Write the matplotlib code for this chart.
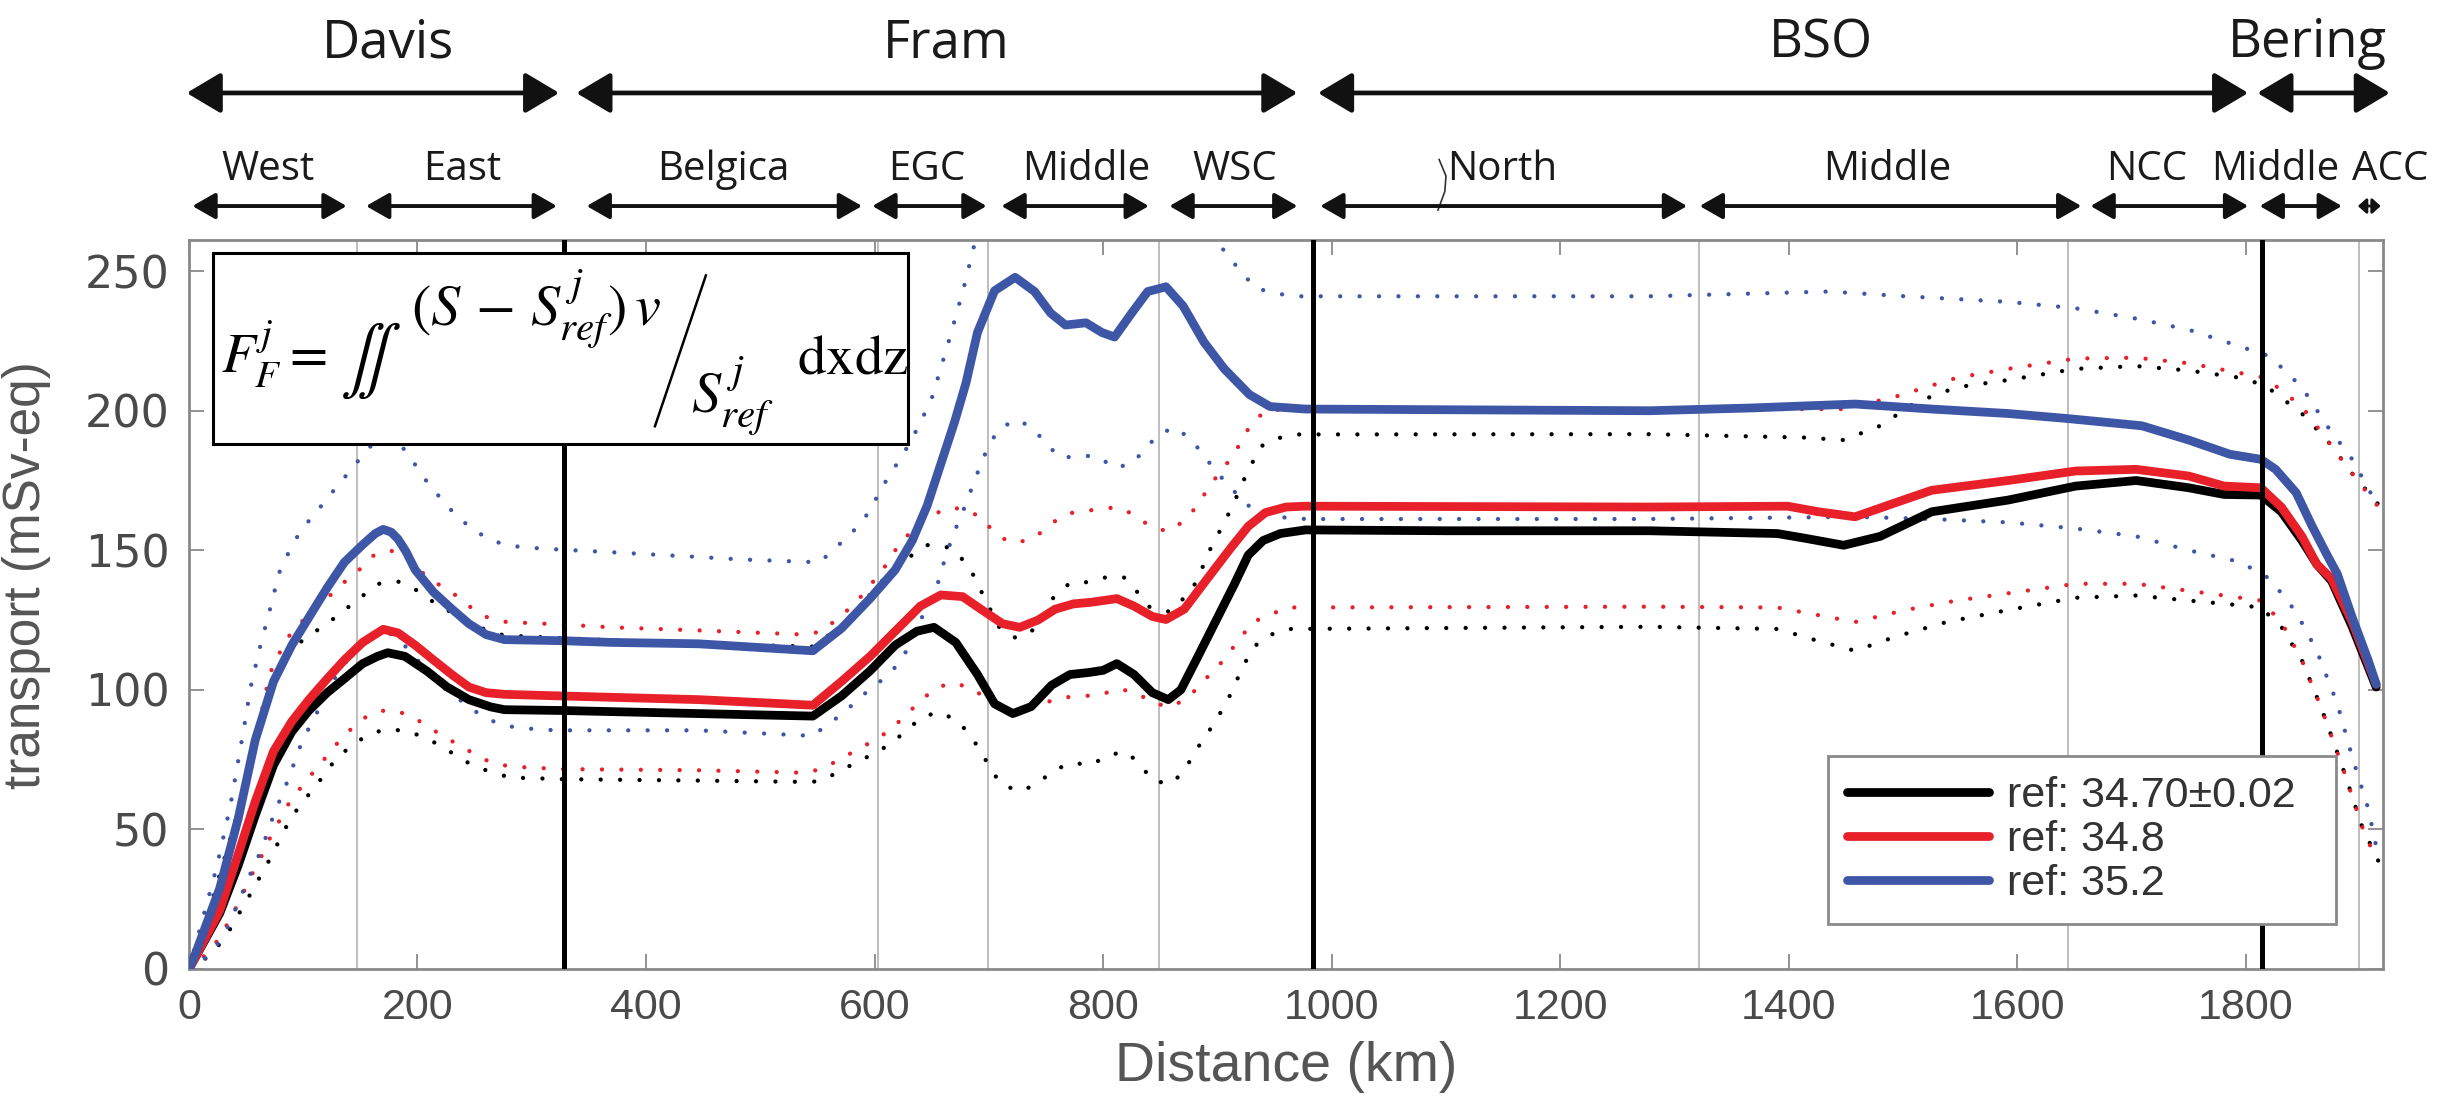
import numpy as np
import matplotlib.pyplot as plt
from matplotlib.transforms import blended_transform_factory
from matplotlib.patches import Rectangle
from matplotlib.lines import Line2D

plt.rcParams['mathtext.fontset'] = 'stix'
plt.rcParams['font.family'] = ['Liberation Sans', 'DejaVu Sans']

# ---- transport curves: (distance km, transport mSv-eq) ----
black_solid = [(0, 0), (27, 20), (43, 37), (58, 55), (74, 73), (90, 85), (105, 92.6), (121, 99),
               (136, 104), (152, 109.4), (165, 112), (174, 113.3), (189, 112), (208, 106.8), (226, 101),
               (245, 96.5), (264, 93.9), (276, 92.9), (327, 92.6), (446, 91.5), (546, 90.6),
               (571, 97.8), (596, 106.8), (618, 116), (637, 121), (652, 122.4), (671, 117),
               (690, 105.5), (705, 95), (721, 91.5), (737, 94), (755, 101.7), (771, 105.5),
               (787, 106.2), (800, 107), (812, 109.4), (827, 105.5), (843, 99), (857, 96.5),
               (868, 100), (883, 112), (899, 125), (915, 138), (927, 148.3), (940, 153.5),
               (955, 156), (977, 157.3), (1100, 157), (1278, 157), (1390, 156), (1413, 154.4),
               (1448, 151.8), (1480, 155), (1525, 163.8), (1592, 168), (1651, 173), (1704, 175),
               (1750, 172.4), (1781, 170), (1813, 169.8), (1831, 163.8), (1849, 153.5),
               (1862, 145), (1875, 139), (1893, 122.6), (1914, 101)]

red_solid = [(0, 0), (6, 4.5), (27, 21), (43, 41), (58, 60), (74, 78), (90, 88.7), (105, 96.5),
             (121, 104), (136, 110.7), (152, 117), (170, 121.7), (183, 120.4), (198, 116),
             (214, 110.7), (230, 105.5), (245, 101), (260, 99), (276, 98.4), (327, 97.8),
             (446, 96.5), (546, 94.5), (571, 103), (596, 112), (618, 121), (640, 130),
             (658, 134), (677, 133.4), (693, 128.9), (712, 123.7), (727, 122.4), (743, 125),
             (758, 128.9), (774, 130.8), (790, 131.4), (812, 132.7), (827, 130), (843, 126.3),
             (855, 125.2), (871, 128.9), (890, 139.2), (912, 151), (927, 158.6), (942, 163.5),
             (960, 165.5), (977, 165.8), (1278, 165.5), (1399, 165.8), (1426, 163.8),
             (1458, 162), (1493, 167), (1525, 171.5), (1592, 175), (1651, 178.4), (1704, 179),
             (1750, 176.6), (1781, 173), (1813, 172.4), (1831, 165.5), (1849, 155), (1862, 145),
             (1875, 139.8), (1893, 124.3), (1914, 102)]

blue_solid = [(0, 0), (6, 5.8), (27, 29), (43, 53.7), (58, 82), (74, 103), (90, 116), (105, 126),
              (121, 136.6), (136, 145.7), (152, 152), (163, 156), (170, 157.5), (177, 156.5),
              (183, 154), (190, 149.5), (198, 143),
              (214, 135), (230, 129), (245, 123.7), (260, 119.8), (276, 118), (327, 117.6),
              (370, 117), (446, 116.5), (546, 114), (571, 122), (596, 132.7), (618, 143),
              (633, 153.5), (646, 166), (658, 181), (670, 196), (680, 210), (690, 228),
              (705, 243), (723, 247.8), (740, 242.7), (754, 235), (767, 230.7), (785, 231.5),
              (799, 228), (810, 226.4), (825, 235), (839, 242.7), (855, 244.4), (870, 237.5),
              (888, 224.7), (906, 215), (928, 205.8), (946, 201.5), (977, 200.6), (1278, 200),
              (1368, 201), (1458, 202.4), (1525, 200.6), (1592, 199), (1644, 197.2),
              (1709, 194.6), (1750, 189.5), (1786, 184.4), (1813, 182.6), (1826, 179),
              (1844, 170.6), (1858, 158.6), (1871, 148.3), (1880, 141.5), (1893, 126),
              (1907, 110.6), (1914, 102)]

# ---- uncertainty bounds (dotted) ----
black_upper = [(0, 0), (20, 24), (40, 52), (55, 78), (69, 99), (85, 112), (100, 118), (111, 121),
               (125, 125), (139, 129.5), (153, 134), (166, 138), (183, 138.8), (198, 136),
               (212, 132), (226, 128.6), (242, 125), (262, 121), (276, 119.5), (327, 118.5),
               (446, 116.5), (546, 115.5), (575, 124), (600, 136), (620, 145), (633, 148.3),
               (647, 152), (665, 151), (677, 146.7), (687, 140.8), (694, 134.7), (710, 121.7),
               (724, 118.5), (740, 121.7), (757, 133.4), (771, 138.3), (787, 138.6), (804, 140.5),
               (819, 140.2), (830, 135), (841, 129.5), (858, 128), (877, 135.3), (885, 141.8),
               (891, 148.3), (899, 154.5), (907, 160.8), (915, 167.4), (921, 173.5), (929, 180),
               (937, 187), (951, 190), (969, 191.5), (1278, 191.6), (1413, 190.4), (1448, 189.5),
               (1480, 194.6), (1511, 203), (1547, 208.4), (1592, 211), (1651, 215), (1704, 216),
               (1750, 214.4), (1795, 211.8), (1817, 209), (1849, 199), (1871, 189.5),
               (1893, 177.5), (1916, 166.4)]

black_lower = [(0, 0), (20, 5.2), (35, 13.6), (44, 20), (54, 27), (63, 33.7), (71, 39.5), (79, 46),
               (87, 52.4), (96, 58), (107, 63.6), (118, 69.3), (128, 75), (141, 79.6), (155, 83.5),
               (170, 85.7), (188, 85.5), (203, 83.5), (219, 80.3), (234, 76.4), (248, 73),
               (264, 70.6), (281, 68.6), (327, 68), (446, 67.5), (545, 67), (555, 67.7),
               (569, 70.8), (584, 74), (602, 77.7), (616, 81.2), (629, 86), (643, 90.6), (658, 92),
               (674, 88.4), (685, 82.9), (694, 77.3), (702, 71.2), (712, 65.7), (729, 63.7),
               (744, 67), (757, 71.2), (772, 73.8), (790, 73.2), (805, 76.8), (821, 77.7),
               (833, 72.8), (844, 67.3), (860, 66.4), (872, 71.6), (880, 77.7), (890, 83.5),
               (899, 89.4), (908, 95.4), (915, 101.7), (922, 108), (931, 115), (942, 119),
               (960, 121.8), (1278, 122.6), (1390, 121.8), (1426, 117.5), (1458, 114), (1493, 119),
               (1538, 124.3), (1592, 128.6), (1651, 133), (1704, 133.8), (1750, 132), (1795, 130.3),
               (1813, 129.5), (1831, 122.6), (1849, 110.6), (1866, 93.5), (1884, 73),
               (1902, 50.6), (1916, 38.6)]

red_upper = [(0, 0), (15, 15), (30, 35), (45, 58), (58, 80), (65, 95), (71, 106), (79, 113),
             (87, 119), (98, 124), (110, 130), (124, 134), (136, 138.6), (149, 143), (161, 148),
             (176, 150), (192, 147), (208, 140.5), (233, 134), (245, 130), (261, 126), (278, 124.3),
             (295, 124), (327, 123.4), (370, 122.4), (446, 121.3), (540, 119.8), (554, 121),
             (566, 125), (579, 129.5), (591, 134.7), (602, 140.5), (612, 145.7), (621, 152),
             (640, 160), (662, 165), (677, 165), (693, 161.9), (704, 156.7), (718, 152.8),
             (735, 153.5), (749, 157.3), (762, 161.9), (777, 164), (794, 164.5), (812, 165.5),
             (827, 162.8), (841, 158.6), (857, 156.7), (871, 160.6), (882, 165.8), (891, 171.6),
             (901, 177.4), (912, 183), (921, 189), (929, 195), (942, 200), (960, 200.5),
             (1278, 200.5), (1448, 200.6), (1493, 205), (1547, 211.8), (1592, 215), (1651, 218.7),
             (1704, 219), (1750, 217), (1795, 213.5), (1817, 211.8), (1849, 201.5), (1871, 189.5),
             (1893, 177.5), (1916, 165.5)]

red_lower = [(0, 0), (20, 7), (35, 17), (45, 25), (54, 33), (63, 40), (71, 47), (79, 53), (87, 59),
             (96, 64), (107, 69.6), (121, 76.4), (132, 82), (144, 86.8), (158, 91.3), (174, 92.9),
             (191, 91.3), (205, 88), (220, 84), (235, 80.5), (250, 77), (265, 73.8), (282, 72.5),
             (327, 71.6), (446, 71.2), (540, 70.3), (555, 71.9), (569, 75), (585, 78.6),
             (601, 82.2), (615, 86), (627, 91), (640, 95.8), (652, 100.4), (668, 102.6),
             (685, 100.6), (699, 96.5), (713, 92.6), (730, 92.3), (748, 95.2), (762, 97.1),
             (779, 97.8), (796, 98), (813, 100.4), (829, 99), (844, 95.2), (860, 93.9), (876, 97.8),
             (887, 103), (899, 107.5), (910, 113.3), (921, 118.8), (930, 124.3), (942, 126),
             (960, 129.5), (1278, 129.8), (1390, 129.5), (1458, 124.3), (1502, 128.6), (1547, 132),
             (1592, 134.6), (1651, 138), (1704, 138), (1750, 135.5), (1795, 133), (1813, 132),
             (1831, 124.3), (1849, 110.6), (1866, 93.5), (1884, 73), (1902, 50.6), (1911, 42)]

blue_upper = [(0, 0), (12, 18), (24, 36), (36, 58), (48, 86), (54, 101), (62, 115), (71, 129),
              (79, 142), (87, 149), (95, 155), (105, 160.6), (116, 166), (127, 171.6), (138, 177),
              (148, 182), (158, 187), (172, 190), (182, 189), (192, 184.5), (201, 178.7), (211, 173),
              (223, 167.4), (234, 162.3), (247, 158), (262, 154), (278, 151.8), (295, 151),
              (327, 150.2), (370, 149.3), (446, 147.6), (484, 146.7), (552, 145.7), (566, 151),
              (577, 155), (590, 160.6), (599, 166.7), (607, 172.9), (616, 178.7), (625, 184.5),
              (633, 190), (641, 196.8), (649, 203), (665, 225), (678, 244), (687, 259), (700, 280),
              (880, 285), (901, 260), (910, 255), (933, 244), (951, 242), (969, 241), (1278, 241),
              (1435, 242.7), (1502, 241), (1592, 239), (1651, 236.7), (1704, 233), (1750, 229),
              (1795, 223), (1821, 219.5), (1849, 208.4), (1871, 194.6), (1893, 182.6),
              (1916, 165.5)]

blue_lower = [(0, 0), (20, 5.5), (34, 15), (48, 28.5), (54, 34.3), (62, 41.4), (68, 48), (74, 55),
              (87, 68), (99, 81.6), (111, 91), (122, 99.7), (130, 106), (145, 114), (166, 121.3),
              (178, 119.8), (192, 114.6), (214, 104), (228, 99), (242, 95), (254, 91.3), (270, 88),
              (287, 86.4), (321, 85.5), (446, 85.5), (546, 83.5), (558, 87.4), (574, 92), (586, 97),
              (599, 101), (612, 105.5), (624, 110.7), (637, 122.4), (654, 136), (658, 142.4),
              (669, 156), (676, 162.5), (682, 169), (688, 175.5), (694, 182), (701, 188.4),
              (710, 194), (726, 196.8), (740, 193), (751, 187.8), (763, 183), (780, 184),
              (796, 183.5), (810, 179.4), (826, 181.3), (837, 186.5), (849, 191.7), (863, 194),
              (877, 189.7), (887, 184.5), (898, 178.7), (908, 174), (921, 168.4), (933, 163.8),
              (951, 162), (977, 161.2), (1278, 161.2), (1458, 162), (1525, 161.2), (1592, 160),
              (1651, 157.8), (1704, 155), (1750, 150), (1795, 145.8), (1821, 139.8), (1844, 127.8),
              (1862, 114), (1880, 95), (1893, 76), (1907, 57.5), (1916, 40)]

legend_labels = ['ref: 34.70\u00b10.02', 'ref: 34.8', 'ref: 35.2']

# section boundaries (km)
thin_lines_km = [147, 603, 699, 849, 1321, 1644, 1899]
thick_lines_km = [328, 984, 1814]

# (label, start km, end km, label centre km)
straits = [('Davis', -2, 324, 174), ('Fram', 339, 970, 663),
           ('BSO', 988, 1802, 1428), ('Bering', 1810, 1926, 1854)]
subsections = [('West', 3, 138, 69), ('East', 155, 322, 239), ('Belgica', 348, 589, 468),
               ('EGC', 598, 698, 646), ('Middle', 711, 840, 785), ('WSC', 858, 970, 915),
               ('North', 990, 1311, 1149), ('Middle', 1322, 1656, 1486),
               ('NCC', 1664, 1802, 1713), ('Middle', 1812, 1884, 1826), ('ACC', 1898, 1918, 1926)]

c_black = '#000000'
c_red = '#e8202a'
c_blue = '#3d56a6'
grey = '#8a8a8a'
txt = '#4a4a4a'


def xy(series):
    a = np.array(series, dtype=float)
    return a[:, 0], a[:, 1]


fig = plt.figure(figsize=(24.57, 11), dpi=100)
ax = fig.add_axes([0.0769, 0.1191, 0.8930, 0.6623])

for x in thin_lines_km:
    ax.axvline(x, color='#b3b3b3', lw=1.2, zorder=1)

dot = dict(lw=3.1, linestyle=(0, (0.01, 4.5)), dash_capstyle='round', zorder=2)
for s, c in [(black_upper, c_black), (black_lower, c_black), (red_upper, c_red),
             (red_lower, c_red), (blue_upper, c_blue), (blue_lower, c_blue)]:
    ax.plot(*xy(s), color=c, **dot)

solid = dict(lw=6.3, solid_capstyle='round', solid_joinstyle='round', zorder=3)
hb, = ax.plot(*xy(black_solid), color=c_black, **solid)
hr, = ax.plot(*xy(red_solid), color=c_red, **solid)
hbl, = ax.plot(*xy(blue_solid), color=c_blue, **solid)

for x in thick_lines_km:
    ax.axvline(x, color='black', lw=3.6, zorder=4)

ax.set_xlim(0, 1920)
ax.set_ylim(0, 261)
ax.set_xticks(np.arange(0, 1801, 200))
ax.set_yticks(np.arange(0, 251, 50))
ax.tick_params(direction='in', top=True, right=True, length=11, width=1.3,
               color=grey, labelcolor=txt)
ax.tick_params(axis='y', pad=14, labelsize=32)
ax.tick_params(axis='x', pad=14, labelsize=31)
for lab in ax.get_yticklabels():
    lab.set_family('DejaVu Sans')
for sp in ax.spines.values():
    sp.set_color(grey)
    sp.set_linewidth(2)
ax.set_xlabel('Distance (km)', fontsize=40, color='#555555', labelpad=9)
ax.set_ylabel('transport (mSv-eq)', fontsize=37, color='#555555')
ax.yaxis.set_label_coords(-0.063, 0.54)

leg = ax.legend([hb, hr, hbl], legend_labels, loc='lower left',
                bbox_to_anchor=(0.747, 0.062, 0.2316, 0.245), mode='expand',
                borderaxespad=0,
                fontsize=31, handlelength=3.3, handletextpad=0.4, labelspacing=0.1,
                borderpad=0.45, fancybox=False, framealpha=1, edgecolor='#8a8a8a')
leg.get_frame().set_linewidth(2)
leg.set_zorder(11)
for t in leg.get_texts():
    t.set_color('#333333')

# formula box
ax.add_patch(Rectangle((0.011, 0.7207), 0.3165, 0.2623, transform=ax.transAxes,
                       facecolor='white', edgecolor='black', lw=2.2, zorder=10))
fkw = dict(transform=ax.transAxes, ha='left', va='baseline', zorder=12)
ax.text(0.0145, 0.818, r'$F_F^j =$', fontsize=40, **fkw)
ax.text(0.0690, 0.812, r'$\iint$', fontsize=48, **fkw)
ax.text(0.1013, 0.884, r'$(S\,-\,S_{ref}^{\,j})\,v$', fontsize=42, **fkw)
ax.text(0.2286, 0.764, r'$S_{ref}^{\,j}$', fontsize=42, **fkw)
ax.text(0.2773, 0.818, r'$\mathrm{dxdz}$', fontsize=41, **fkw)
ax.add_line(Line2D([0.2124, 0.2356], [0.745, 0.952], transform=ax.transAxes,
                   color='black', lw=1.8, zorder=12))

# section annotations above the axes
tr = blended_transform_factory(ax.transData, fig.transFigure)
top_font = ['Open Sans', 'DejaVu Sans']


def span(x0, x1, y, lw, hl, hw):
    ax.annotate('', xy=(x1, y), xytext=(x0, y), xycoords=tr, textcoords=tr,
                annotation_clip=False,
                arrowprops=dict(arrowstyle='<|-|>,head_length=%g,head_width=%g' % (hl, hw),
                                lw=lw, color='#111111', shrinkA=0, shrinkB=0,
                                mutation_scale=10))


for name, x0, x1, xc in straits:
    span(x0, x1, 0.9155, 3.4, 2.1, 1.25)
    ax.text(xc, 0.948, name, transform=tr, ha='center', va='baseline',
            fontsize=38, family=top_font, color='#1a1a1a')

for name, x0, x1, xc in subsections:
    if x1 - x0 < 40:
        span(x0, x1, 0.8127, 2.0, 0.5, 0.45)
    else:
        span(x0, x1, 0.8127, 2.8, 1.4, 0.8)
    ax.text(xc, 0.836, name, transform=tr, ha='center', va='baseline',
            fontsize=29, family=top_font, color='#1a1a1a')

# small hand-drawn stroke next to "North"
ax.add_line(Line2D([1094, 1100, 1099, 1093], [0.855, 0.84, 0.826, 0.809], transform=tr,
                   color='#333333', lw=1.2, clip_on=False))

fig.savefig('out.png', dpi=100)
